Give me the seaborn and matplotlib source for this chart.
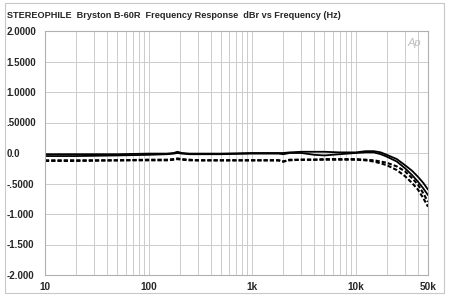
import matplotlib
matplotlib.use("Agg")
import matplotlib.pyplot as plt
import matplotlib.patches as patches
import seaborn as sns

# frequency points (Hz) and the four response traces (dBr)
freq = [10, 20, 50, 100, 150, 175, 190, 210, 250, 300, 500, 1000, 1800, 2000, 2300,
        3000, 4000, 5000, 7000, 10000, 12500, 15000, 17500, 20000, 25000, 30000, 35000, 40000, 45000, 50000]
left_a = [-0.02, -0.02, -0.02, -0.01, -0.01, 0.0, 0.02, 0.0, -0.01, -0.01, -0.01, 0.0, 0.0, 0.0, 0.01,
          0.02, 0.02, 0.02, 0.01, 0.01, 0.03, 0.03, 0.01, -0.03, -0.1, -0.2, -0.29, -0.39, -0.49, -0.6]
right_a = [-0.05, -0.05, -0.04, -0.03, -0.02, -0.01, 0.0, -0.01, -0.02, -0.02, -0.02, -0.01, -0.01, -0.02, 0.0,
           0.0, -0.03, -0.04, -0.02, 0.0, 0.01, 0.01, -0.02, -0.06, -0.14, -0.25, -0.36, -0.47, -0.58, -0.69]
left_b = [-0.12, -0.12, -0.12, -0.11, -0.11, -0.1, -0.09, -0.1, -0.11, -0.12, -0.12, -0.12, -0.12, -0.14, -0.11,
          -0.11, -0.11, -0.1, -0.1, -0.1, -0.11, -0.12, -0.14, -0.16, -0.22, -0.3, -0.41, -0.52, -0.66, -0.8]
right_b = [-0.13, -0.13, -0.12, -0.12, -0.12, -0.11, -0.1, -0.11, -0.12, -0.12, -0.12, -0.12, -0.12, -0.14, -0.12,
           -0.11, -0.11, -0.11, -0.11, -0.11, -0.12, -0.14, -0.17, -0.2, -0.28, -0.38, -0.49, -0.6, -0.74, -0.88]

yticks = [2.0, 1.5, 1.0, 0.5, 0.0, -0.5, -1.0, -1.5, -2.0]
ylabels = ["2.0000", "1.5000", "1.0000", ".50000", "0.0", "-.5000", "-1.000", "-1.500", "-2.000"]
xticks = [10, 100, 1000, 10000, 50000]
xlabels = ["10", "100", "1k", "10k", "50k"]

sns.set_style("white")
plt.rcParams["font.family"] = ["Liberation Sans", "DejaVu Sans"]

fig = plt.figure(figsize=(4.5, 2.99), dpi=100)
ax = fig.add_axes([45 / 450, 1 - 275 / 299, 383 / 450, 244 / 299])

sns.lineplot(x=freq, y=left_a, ax=ax, color="black", linewidth=1.3)
sns.lineplot(x=freq, y=right_a, ax=ax, color="black", linewidth=1.3)
sns.lineplot(x=freq, y=left_b, ax=ax, color="black", linewidth=1.5, linestyle=(0, (2, 1)))
sns.lineplot(x=freq, y=right_b, ax=ax, color="black", linewidth=1.5, linestyle=(0, (2, 1)))

ax.set_xscale("log")
ax.set_xlim(10, 50000)
ax.set_ylim(-2, 2)
ax.set_xticks(xticks)
ax.set_xticklabels(xlabels, fontsize=7.2, fontweight="bold")
ax.set_yticks(yticks)
ax.set_yticklabels(ylabels, fontsize=7, fontweight="bold", ha="left")
ax.tick_params(axis="y", length=0, pad=27.5)
ax.tick_params(axis="x", length=0, pad=5)
ax.set_xticks([m * 10 ** d for d in range(1, 5) for m in range(2, 10) if m * 10 ** d < 50000],
              minor=True)
ax.grid(True, which="both", axis="x", color="#cccccc", linewidth=0.7)
ax.grid(True, which="major", axis="y", color="#cccccc", linewidth=0.7)
for s in ax.spines.values():
    s.set_color("#b0b0b0")
    s.set_linewidth(0.8)

fig.text(7 / 450, 1 - 16 / 299, "STEREOPHILE  Bryston B-60R  Frequency Response  dBr vs Frequency (Hz)",
         fontsize=6.6, fontweight="bold", va="center")
ax.text(0.965, 0.97, "Ap", transform=ax.transAxes, fontsize=8, style="italic",
        color="#c0c0c0", ha="center", va="top")
fig.patches.append(patches.Rectangle((5 / 450, 1 - 293 / 299), 439 / 450, 290 / 299,
                                     transform=fig.transFigure, fill=False,
                                     edgecolor="#c8c8c8", linewidth=0.8))

fig.savefig("out.png", dpi=100)
